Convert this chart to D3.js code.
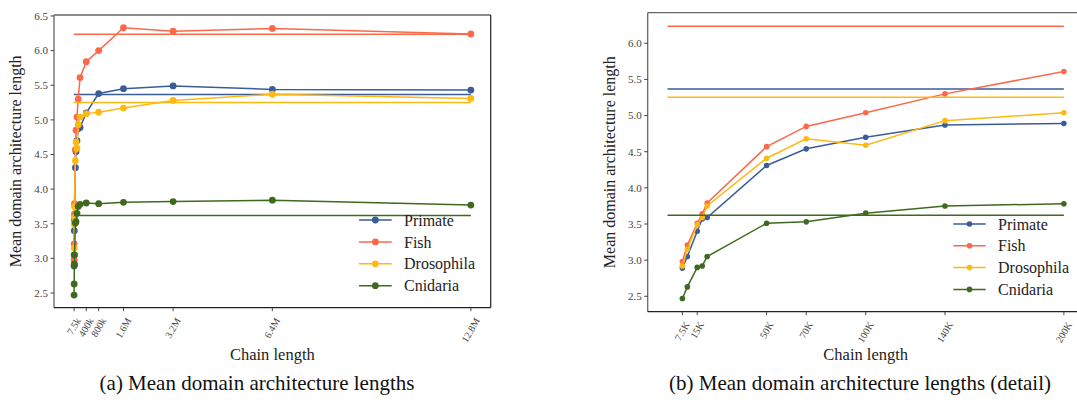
<!DOCTYPE html>
<html><head><meta charset="utf-8">
<script src="https://cdn.jsdelivr.net/npm/d3@7"></script>
<style>body{margin:0;background:#fff}svg{display:block}</style>
</head><body>
<svg id="c" width="1077" height="404"></svg>
<script>
const chainX = [7500, 10000, 15000, 17500, 20000, 50000, 70000, 100000, 140000, 200000, 400000, 800000, 1600000, 3200000, 6400000, 12800000];
const primate = [2.89, 3.05, 3.40, 3.57, 3.59, 4.31, 4.54, 4.70, 4.87, 4.89, 5.10, 5.38, 5.45, 5.49, 5.44, 5.43];
const fish = [2.98, 3.21, 3.51, 3.64, 3.79, 4.57, 4.85, 5.04, 5.30, 5.61, 5.84, 6.00, 6.33, 6.28, 6.32, 6.24];
const drosophila = [2.92, 3.15, 3.49, 3.59, 3.75, 4.41, 4.68, 4.59, 4.93, 5.04, 5.09, 5.11, 5.17, 5.28, 5.37, 5.31];
const cnidaria = [2.47, 2.63, 2.90, 2.92, 3.05, 3.51, 3.53, 3.65, 3.75, 3.78, 3.80, 3.79, 3.81, 3.82, 3.84, 3.77];
const baseline = [5.367, 6.235, 5.252, 3.62];
const seriesNames = ["Primate", "Fish", "Drosophila", "Cnidaria"];
const seriesColors = ["#3a5d98", "#fb694a", "#fdb913", "#3e6a1f"];
const leftTickVals = [7500, 400000, 800000, 1600000, 3200000, 6400000, 12800000];
const leftTickLabels = ["7.5k", "400k", "800k", "1.6M", "3.2M", "6.4M", "12.8M"];
const rightTickVals = [7500, 15000, 50000, 70000, 100000, 140000, 200000];
const rightTickLabels = ["7.5K", "15K", "50K", "70K", "100K", "140K", "200K"];
const leftYTicks = [2.5, 3.0, 3.5, 4.0, 4.5, 5.0, 5.5, 6.0, 6.5];
const rightYTicks = [2.5, 3.0, 3.5, 4.0, 4.5, 5.0, 5.5, 6.0];
const captions = ["(a) Mean domain architecture lengths", "(b) Mean domain architecture lengths (detail)"];

const allSeries = [primate, fish, drosophila, cnidaria];
const svg = d3.select("#c");
const serif = "'Liberation Serif', 'DejaVu Serif', serif";

function panel(cfg) {
  const {x0, x1, y0, y1, xDom, yDom, maxX, tickVals, tickLabels, yTicks, r, legend, caption} = cfg;
  const x = d3.scaleLinear().domain(xDom).range([x0, x1]);
  const y = d3.scaleLinear().domain(yDom).range([y1, y0]);
  const g = svg.append("g");
  const clipId = "clip" + Math.round(x0);
  g.append("clipPath").attr("id", clipId).append("rect")
    .attr("x", x0).attr("y", y0).attr("width", x1 - x0).attr("height", y1 - y0);
  const plot = g.append("g").attr("clip-path", `url(#${clipId})`);

  allSeries.forEach((vals, i) => {
    const col = seriesColors[i];
    plot.append("line")
      .attr("x1", x(0)).attr("x2", x(maxX))
      .attr("y1", y(baseline[i])).attr("y2", y(baseline[i]))
      .attr("stroke", col).attr("stroke-width", 1.5);
    const pts = chainX.map((c, j) => [c, vals[j]]).filter(p => p[0] <= maxX);
    plot.append("path").datum(pts)
      .attr("d", d3.line().x(p => x(p[0])).y(p => y(p[1])))
      .attr("fill", "none").attr("stroke", col).attr("stroke-width", 1.5);
    plot.selectAll(null).data(pts).enter().append("circle")
      .attr("cx", p => x(p[0])).attr("cy", p => y(p[1])).attr("r", r)
      .attr("fill", col);
  });

  g.append("line").attr("x1", x0).attr("x2", x1).attr("y1", y0).attr("y2", y0).attr("stroke", "#666").attr("stroke-width", 1.3);
  g.append("line").attr("x1", x0).attr("x2", x0).attr("y1", y0).attr("y2", y1).attr("stroke", "#666").attr("stroke-width", 1.3);
  g.append("line").attr("x1", x0).attr("x2", x1).attr("y1", y1).attr("y2", y1).attr("stroke", "#222").attr("stroke-width", 1.2);
  g.append("line").attr("x1", x1).attr("x2", x1).attr("y1", y0).attr("y2", y1).attr("stroke", "#222").attr("stroke-width", 1.2);

  yTicks.forEach(v => {
    g.append("line").attr("x1", x0 - 3.5).attr("x2", x0).attr("y1", y(v)).attr("y2", y(v)).attr("stroke", "#333").attr("stroke-width", 0.9);
    g.append("text").attr("x", x0 - 6).attr("y", y(v)).attr("dy", "0.35em")
      .attr("text-anchor", "end").attr("font-family", serif).attr("font-size", 11)
      .attr("fill", "#444").text(v.toFixed(1));
  });
  tickVals.forEach((v, i) => {
    const tx = x(v);
    g.append("line").attr("x1", tx).attr("x2", tx).attr("y1", y1).attr("y2", y1 + 3.5).attr("stroke", "#333").attr("stroke-width", 0.9);
    const t = g.append("text").attr("font-family", serif).attr("font-size", 10)
      .attr("fill", "#444").attr("text-anchor", "middle").attr("dy", "0.33em").text(tickLabels[i]);
    const w = t.node().getComputedTextLength();
    const h = 8;
    const a = Math.PI / 3;
    const H = w * Math.sin(a) + h * Math.cos(a);
    const cy = y1 + 9 + H / 2;
    t.attr("x", tx).attr("y", cy).attr("transform", `rotate(-60,${tx},${cy})`);
  });

  g.append("text").attr("x", (x0 + x1) / 2).attr("y", 360)
    .attr("text-anchor", "middle").attr("font-family", serif).attr("font-size", 16.5)
    .attr("fill", "#222").text("Chain length");
  const ylx = cfg.ylabelX, yly = (y0 + y1) / 2;
  g.append("text").attr("x", ylx).attr("y", yly)
    .attr("transform", `rotate(-90,${ylx},${yly})`)
    .attr("text-anchor", "middle").attr("font-family", serif).attr("font-size", 16)
    .attr("fill", "#222").text("Mean domain architecture length");

  seriesNames.forEach((n, i) => {
    const ly = legend.y + i * legend.dy;
    g.append("line").attr("x1", legend.lx1).attr("x2", legend.lx2).attr("y1", ly).attr("y2", ly)
      .attr("stroke", seriesColors[i]).attr("stroke-width", 1.5);
    g.append("circle").attr("cx", (legend.lx1 + legend.lx2) / 2).attr("cy", ly).attr("r", r)
      .attr("fill", seriesColors[i]);
    g.append("text").attr("x", legend.tx).attr("y", ly).attr("dy", "0.35em")
      .attr("font-family", serif).attr("font-size", 16).attr("fill", "#222").text(n);
  });

  g.append("text").attr("x", cfg.capX).attr("y", 390).attr("text-anchor", "middle")
    .attr("font-family", serif).attr("font-size", 21).attr("fill", "#111").text(caption);
}

panel({
  x0: 54, x1: 490.7, y0: 15, y1: 307.7,
  xDom: [-640000, 13440000], yDom: [2.288, 6.514], maxX: 12800000,
  tickVals: leftTickVals, tickLabels: leftTickLabels, yTicks: leftYTicks, r: 3.4,
  legend: {lx1: 359, lx2: 391.7, tx: 404, y: 220, dy: 21.9},
  caption: captions[0], capX: 257, ylabelX: 21
});
panel({
  x0: 647.7, x1: 1083.7, y0: 12.7, y1: 311.7,
  xDom: [-10000, 210000], yDom: [2.287, 6.423], maxX: 200000,
  tickVals: rightTickVals, tickLabels: rightTickLabels, yTicks: rightYTicks, r: 2.8,
  legend: {lx1: 953.3, lx2: 985.7, tx: 998, y: 224, dy: 21.8},
  caption: captions[1], capX: 860, ylabelX: 615
});
</script>
</body></html>
